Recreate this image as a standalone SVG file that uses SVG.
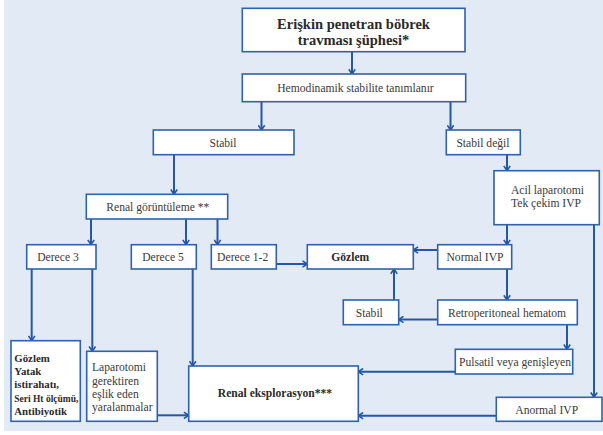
<svg xmlns="http://www.w3.org/2000/svg" width="603" height="435" viewBox="0 0 603 435">
  <defs>
    <style>
      .box { fill: #ffffff; stroke: #2f62a8; stroke-width: 1.6; }
      .lnk { fill: none; stroke: #2458a2; stroke-width: 2; marker-end: url(#arr); }
      text { font-family: "Liberation Serif", "DejaVu Serif", serif; fill: #3a3a3a; font-size: 11.6px; }
      .c { text-anchor: middle; }
      .b { font-weight: bold; fill: #2a2a2a; }
      .title { font-size: 14.5px; }
      .small { font-size: 10.8px; }
    </style>
    <marker id="arr" viewBox="0 0 10 10" refX="9" refY="5" markerWidth="8" markerHeight="8" markerUnits="userSpaceOnUse" orient="auto">
      <path d="M3,1 L9,5 L3,9" fill="none" stroke="#2458a2" stroke-width="2"/>
    </marker>
  </defs>

  <rect x="0" y="0" width="603" height="435" fill="#ffffff"/>
  <rect x="4" y="0" width="599" height="431" fill="#e2eaf5"/>

  <g id="connectors">
    <path class="lnk" d="M352,52 V74"/>
    <path class="lnk" d="M261.5,101.7 V130"/>
    <path class="lnk" d="M450.5,101.7 V130"/>
    <path class="lnk" d="M174,154.7 V194.3"/>
    <path class="lnk" d="M507,154.7 V170.7"/>
    <path class="lnk" d="M91,219 V244.7"/>
    <path class="lnk" d="M186,219 V244.7"/>
    <path class="lnk" d="M217.5,219 V244.7"/>
    <path class="lnk" d="M276.3,264 H307.3"/>
    <path class="lnk" d="M507,224.7 V244.7"/>
    <path class="lnk" d="M594,224.7 V397.3"/>
    <path class="lnk" d="M437.7,250 H413.3"/>
    <path class="lnk" d="M507,269 V300"/>
    <path class="lnk" d="M394,300 V269"/>
    <path class="lnk" d="M437.7,319.5 H398.7"/>
    <path class="lnk" d="M567,324.7 V349.3"/>
    <path class="lnk" d="M455.3,371.7 H358.3"/>
    <path class="lnk" d="M496.3,415.7 H358.3"/>
    <path class="lnk" d="M31.7,269 V340.7"/>
    <path class="lnk" d="M92.3,269 V351.3"/>
    <path class="lnk" d="M192.7,269 V366"/>
    <path class="lnk" d="M157.3,415.3 H188.7"/>
  </g>

  <g id="suspicion">
    <rect class="box" x="242.3" y="8.3" width="222.7" height="43.4"/>
    <text class="c b title" x="353.5" y="28.5">Erişkin penetran böbrek</text>
    <text class="c b title" x="353.5" y="45">travması şüphesi*</text>
  </g>

  <g id="hemodynamic">
    <rect class="box" x="242.3" y="74" width="223.4" height="27.7"/>
    <text class="c" x="355.5" y="92">Hemodinamik stabilite tanımlanır</text>
  </g>

  <g id="stable">
    <rect class="box" x="153.3" y="130" width="140.7" height="24.7"/>
    <text class="c" x="223" y="147">Stabil</text>
  </g>

  <g id="unstable">
    <rect class="box" x="446.3" y="130" width="74" height="24.7"/>
    <text class="c" x="483" y="147">Stabil değil</text>
  </g>

  <g id="imaging">
    <rect class="box" x="86.3" y="194.3" width="141.4" height="24.7"/>
    <text class="c" x="157.8" y="211">Renal görüntüleme **</text>
  </g>

  <g id="grade3">
    <rect class="box" x="26.7" y="244.7" width="69.3" height="24.3"/>
    <text class="c" x="58" y="261">Derece 3</text>
  </g>

  <g id="grade5">
    <rect class="box" x="131.3" y="244.7" width="65" height="24.3"/>
    <text class="c" x="163" y="261">Derece 5</text>
  </g>

  <g id="grade12">
    <rect class="box" x="211.3" y="244.7" width="65" height="24.3"/>
    <text class="c" x="242.7" y="261">Derece 1-2</text>
  </g>

  <g id="observation">
    <rect class="box" x="307.3" y="244.7" width="106" height="24.3"/>
    <text class="c b" x="350.3" y="261">Gözlem</text>
  </g>

  <g id="laparotomy">
    <rect class="box" x="494" y="170.7" width="105.3" height="54"/>
    <text x="511" y="194">Acil laparotomi</text>
    <text x="511" y="206.5">Tek çekim IVP</text>
  </g>

  <g id="normal-ivp">
    <rect class="box" x="437.7" y="244.7" width="74" height="24.3"/>
    <text class="c" x="475" y="261">Normal IVP</text>
  </g>

  <g id="stable-hematoma">
    <rect class="box" x="343.3" y="300" width="55.4" height="24.7"/>
    <text class="c" x="369.3" y="317">Stabil</text>
  </g>

  <g id="retroperitoneal">
    <rect class="box" x="437.7" y="300" width="139.6" height="24.7"/>
    <text class="c" x="507" y="317">Retroperitoneal hematom</text>
  </g>

  <g id="pulsatile">
    <rect class="box" x="455.3" y="349.3" width="117.4" height="24.7"/>
    <text class="c" x="515" y="366">Pulsatil veya genişleyen</text>
  </g>

  <g id="abnormal-ivp">
    <rect class="box" x="496.3" y="397.3" width="105.7" height="24"/>
    <text class="c" x="546.7" y="414">Anormal IVP</text>
  </g>

  <g id="conservative">
    <rect class="box" x="11" y="340.7" width="69.3" height="80.6"/>
    <text class="b small" x="14.3" y="361.7">Gözlem</text>
    <text class="b small" x="14.3" y="375">Yatak</text>
    <text class="b small" x="14.3" y="388.3">istirahatı,</text>
    <text class="b small" x="14.3" y="401.8" textLength="64" lengthAdjust="spacingAndGlyphs">Seri Ht ölçümü,</text>
    <text class="b small" x="14.3" y="415.2">Antibiyotik</text>
  </g>

  <g id="associated-injuries">
    <rect class="box" x="86.7" y="351.3" width="70.6" height="70"/>
    <text x="92" y="371.3">Laparotomi</text>
    <text x="92" y="384.5">gerektiren</text>
    <text x="92" y="397.7">eşlik eden</text>
    <text x="92" y="410.7">yaralanmalar</text>
  </g>

  <g id="exploration">
    <rect class="box" x="188.7" y="366" width="169.6" height="55.3"/>
    <text class="c b" x="275" y="396.5">Renal eksplorasyon***</text>
  </g>
</svg>
